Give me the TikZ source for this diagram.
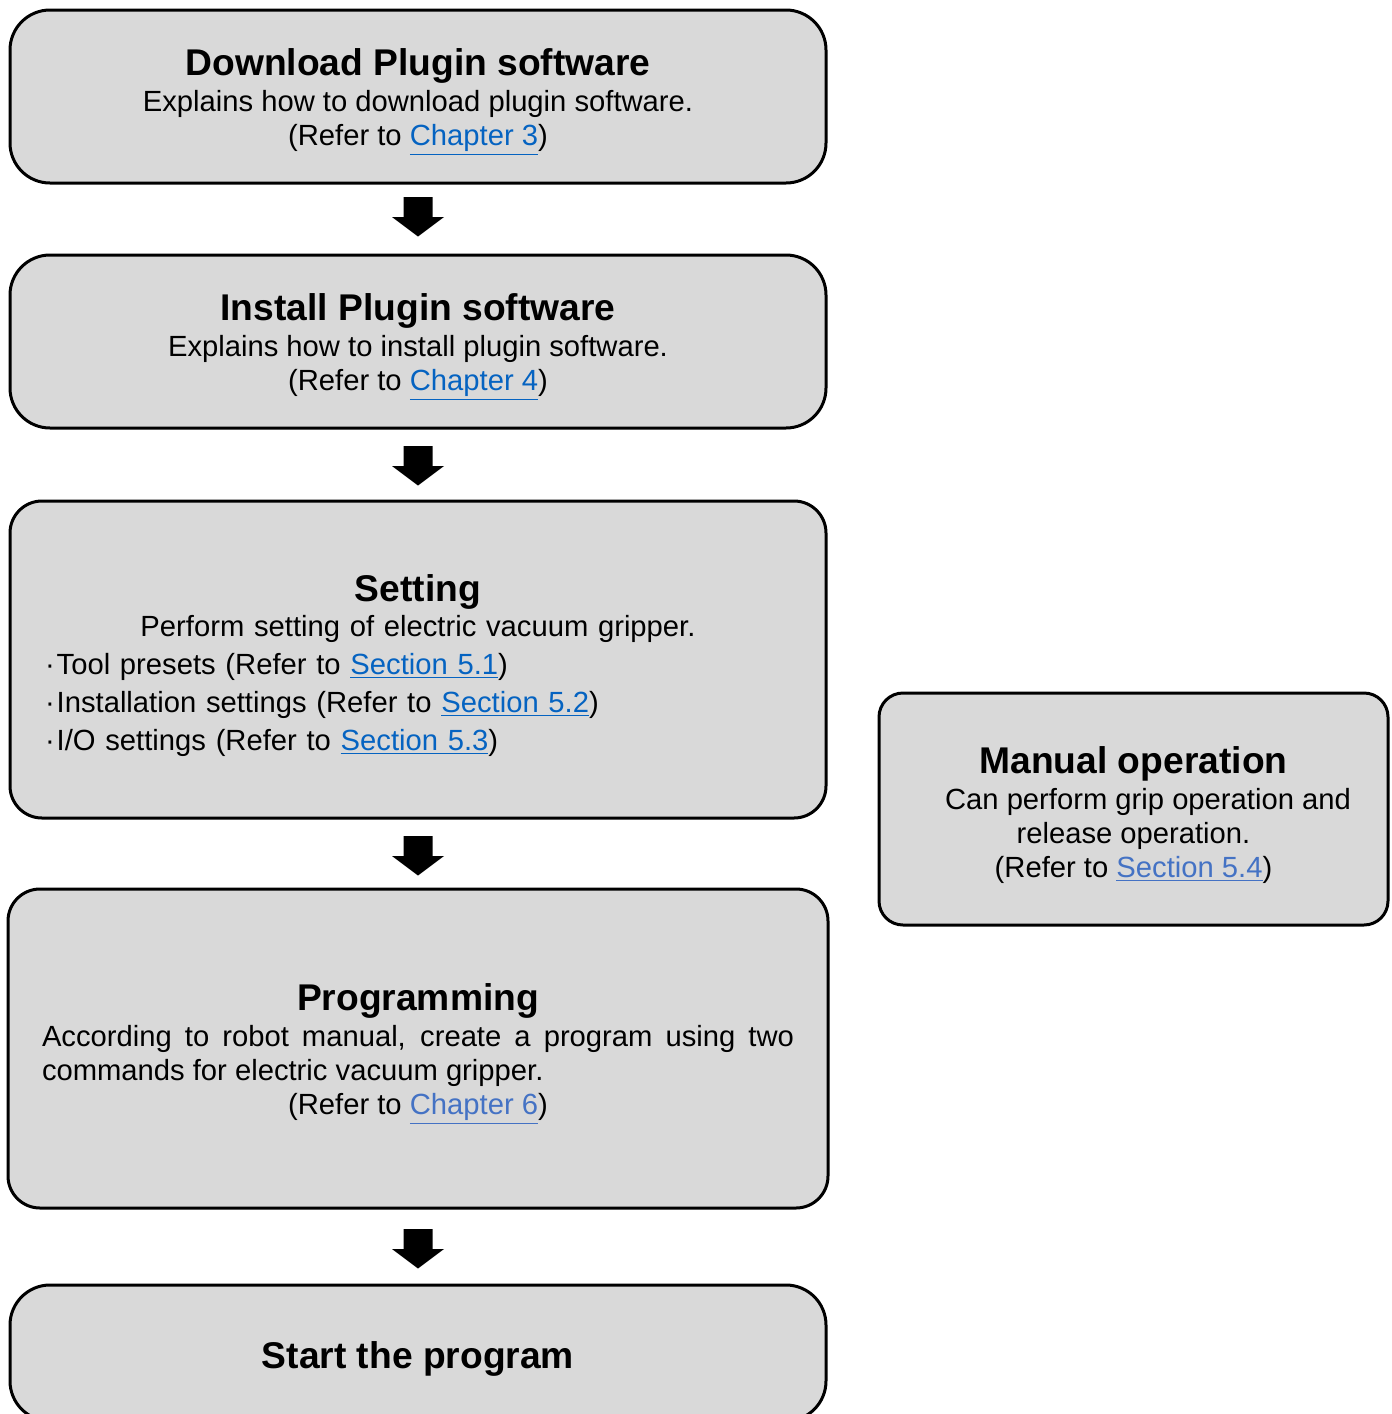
\documentclass[tikz,border=0pt]{standalone}
\usepackage{fontspec}
\setmainfont{Liberation Sans}
\definecolor{gris}{HTML}{D9D9D9}
\definecolor{lienfonce}{HTML}{0563C1}
\definecolor{lienclair}{HTML}{4472C4}
\newcommand{\Lien}[1]{{\color{lienfonce}\underline{#1}}}
\newcommand{\LienClair}[1]{{\color{lienclair}\underline{#1}}}
\newcommand{\Titre}[1]{{\fontsize{18.6}{19}\selectfont\bfseries\rule{0pt}{19.5pt}#1}}
\begin{document}
\begin{tikzpicture}[x=0.5pt,y=-0.5pt,
		fleche/.pic={\fill[black] (-14.5,0) -- (14.5,0) -- (14.5,20) -- (26,20) -- (0,39.5) -- (-26,20) -- (-14.5,20) -- cycle;}]
			\def\px{0.5pt}
			\tikzstyle{boite}=[draw=black,fill=gris,line width=1.5pt,rounded corners=20pt,inner sep=0pt,
				font=\fontsize{14.6}{17}\selectfont]
			\def\Centre{418}
			\def\Large{816*\px}
			\useasboundingbox (0,0) rectangle (1392,1414);
			\node[boite,minimum width=\Large,minimum height=173*\px,align=center] (dl) at (\Centre,96.5)
				{\Titre{Download Plugin software}\\[1pt]
				Explains how to download plugin software.\\
				(Refer to \Lien{Chapter 3})};
			\node[boite,minimum width=\Large,minimum height=173*\px,align=center] (inst) at (\Centre,341.5)
				{\Titre{Install Plugin software}\\[1pt]
				Explains how to install plugin software.\\
				(Refer to \Lien{Chapter 4})};
			\node[boite,rounded corners=16pt,minimum width=\Large,minimum height=317*\px,
				text width=373pt,align=left,font=\fontsize{14.6}{19}\selectfont] (regl) at (\Centre,659.5)
				{{\centering\Titre{Setting}\\[-1.5pt]
				Perform setting of electric vacuum gripper.\par}
				·\hspace{1pt}Tool presets (Refer to \Lien{Section 5.1})\\
				·\hspace{1pt}Installation settings (Refer to \Lien{Section 5.2})\\
				·\hspace{1pt}I/O settings (Refer to \Lien{Section 5.3})};
			\node[boite,rounded corners=16pt,minimum width=820*\px,minimum height=319*\px,
				text width=376pt,align=justify] (prog) at (\Centre,1048.5)
				{{\centering\Titre{Programming}\\[1pt]\par}
				According to robot manual, create a program using two commands for electric vacuum gripper.\par
				{\centering (Refer to \LienClair{Chapter 6})\par}};
			\node[boite,minimum width=\Large,minimum height=136*\px] (dem) at (\Centre,1353)
				{\Titre{Start the program}};
			\node[boite,rounded corners=12pt,minimum width=509*\px,minimum height=232*\px,align=center] (man) at (1133.5,809)
				{\Titre{Manual operation}\\[1pt]
				\hspace*{14.5pt}Can perform grip operation and\\
				release operation.\\
				(Refer to \LienClair{Section 5.4})};
			\pic (f1) at (\Centre,197) {fleche};
			\pic (f2) at (\Centre,446) {fleche};
			\pic (f3) at (\Centre,836) {fleche};
			\pic (f4) at (\Centre,1229) {fleche};
		\end{tikzpicture}
\end{document}
